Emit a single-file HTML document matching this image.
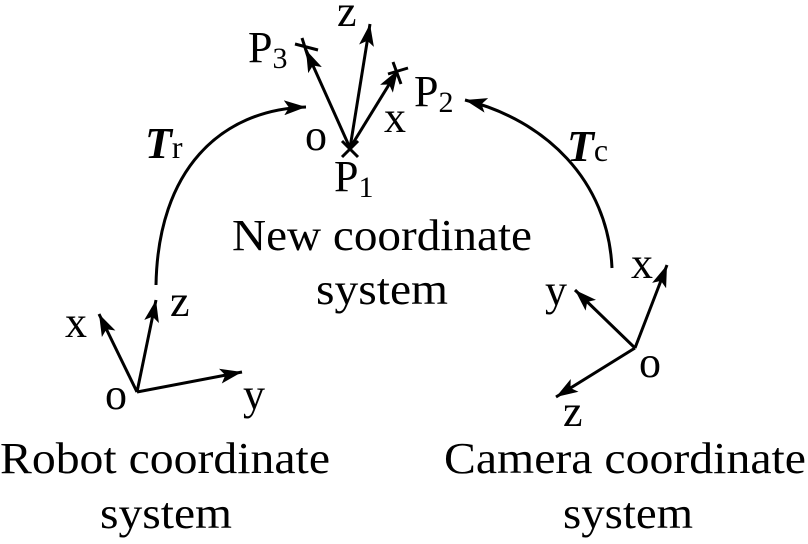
<!DOCTYPE html>
<html><head><meta charset="utf-8"><style>html,body{margin:0;padding:0;background:#fff}svg{display:block}text{font-family:"Liberation Serif","Times New Roman",serif}</style></head>
<body>
<svg width="808" height="544" viewBox="0 0 808 544" xmlns="http://www.w3.org/2000/svg" fill="#000">
<defs>
<marker id="b" viewBox="0 0 22 15" refX="22" refY="7.5" markerWidth="22" markerHeight="15" markerUnits="userSpaceOnUse" orient="auto">
<path d="M0,0 L22,7.5 L0,15 L5,7.5 Z" fill="#000"/>
</marker>
</defs>
<g stroke="#000" stroke-width="3" fill="none">
<path d="M156,285 C158,170 220,110 306,107" marker-end="url(#b)"/>
<path d="M612,268 C608,180 545,120 465,100" marker-end="url(#b)"/>
<line x1="350" y1="148" x2="306" y2="50" marker-end="url(#b)"/>
<line x1="350" y1="148" x2="370" y2="24" marker-end="url(#b)"/>
<line x1="350" y1="148" x2="398" y2="70" marker-end="url(#b)"/>
<line x1="295" y1="44" x2="318" y2="50"/><line x1="302" y1="38" x2="309" y2="60"/>
<line x1="388" y1="74" x2="408" y2="68"/><line x1="393" y1="62" x2="401" y2="84"/>
<line x1="342" y1="141" x2="358" y2="157"/><line x1="342" y1="157" x2="358" y2="141"/>
<line x1="137" y1="392" x2="99" y2="314" marker-end="url(#b)"/>
<line x1="137" y1="392" x2="156" y2="300" marker-end="url(#b)"/>
<line x1="137" y1="392" x2="242" y2="372" marker-end="url(#b)"/>
<line x1="635" y1="348" x2="667" y2="265" marker-end="url(#b)"/>
<line x1="635" y1="348" x2="575" y2="290" marker-end="url(#b)"/>
<line x1="635" y1="348" x2="556" y2="397" marker-end="url(#b)"/>
</g>
<g font-size="44">
<text x="248" y="62">P<tspan font-size="30" dy="6">3</tspan></text>
<text x="337" y="26">z</text>
<text x="414" y="106">P<tspan font-size="30" dy="6">2</tspan></text>
<text x="384" y="132">x</text>
<text x="305" y="150">o</text>
<text x="334" y="191">P<tspan font-size="30" dy="6">1</tspan></text>
<text x="145" y="158" font-weight="bold" font-style="italic">T<tspan font-weight="normal" font-style="normal" font-size="32">r</tspan></text>
<text x="567" y="161" font-weight="bold" font-style="italic">T<tspan font-weight="normal" font-style="normal" font-size="32">c</tspan></text>
<text x="232" y="250" textLength="300" lengthAdjust="spacingAndGlyphs">New coordinate</text>
<text x="316" y="304" textLength="132" lengthAdjust="spacingAndGlyphs">system</text>
<text x="65" y="337">x</text>
<text x="170" y="316">z</text>
<text x="105" y="409">o</text>
<text x="243" y="409">y</text>
<text x="631" y="278">x</text>
<text x="545" y="305">y</text>
<text x="639" y="377">o</text>
<text x="563" y="426">z</text>
<text x="0" y="473" textLength="330" lengthAdjust="spacingAndGlyphs">Robot coordinate</text>
<text x="100" y="528" textLength="132" lengthAdjust="spacingAndGlyphs">system</text>
<text x="444" y="473" textLength="362" lengthAdjust="spacingAndGlyphs">Camera coordinate</text>
<text x="563" y="528" textLength="130" lengthAdjust="spacingAndGlyphs">system</text>
</g>
</svg>
</body></html>
